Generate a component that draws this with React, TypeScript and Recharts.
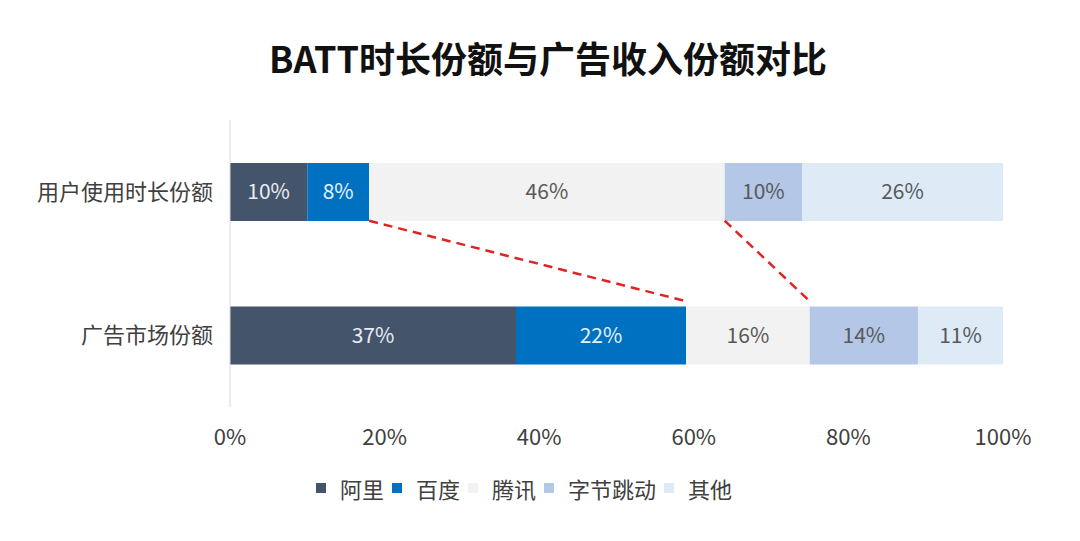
import React from 'react';
import { BarChart, Bar, XAxis, YAxis, LabelList, Legend, ReferenceLine } from 'recharts';

const categories = ['用户使用时长份额', '广告市场份额'];
const seriesNames = ['阿里', '百度', '腾讯', '字节跳动', '其他'];
const ali = [10, 37];
const baidu = [8, 22];
const tencent = [46, 16];
const bytedance = [10, 14];
const others = [26, 11];
const xTicks = [0, 20, 40, 60, 80, 100];

const colors = ['#44546A', '#0070C0', '#F2F2F2', '#B4C7E7', '#DEEBF7'];
const labelColors = ['#E8ECF2', '#E3F1FF', '#595959', '#595959', '#595959'];

const FONT = '"Noto Sans CJK SC", "Noto Sans", sans-serif';
const WIDTH = 1080;
const HEIGHT = 541;
const MARGIN = { top: 120, right: 77, left: 0, bottom: 38 };
const X_AXIS_HEIGHT = 66;
const LEGEND_HEIGHT = 30;
const BAR_SIZE = 58;

const seriesValues = [ali, baidu, tencent, bytedance, others];
const data = categories.map((name, i) => {
  const row: Record<string, string | number> = { name };
  seriesNames.forEach((s, j) => {
    row[s] = seriesValues[j][i];
  });
  return row;
});

// connectors: end of 百度 and end of 腾讯, top bar -> bottom bar
const cum = (i: number, n: number) => seriesValues.slice(0, n).reduce((a, s) => a + s[i], 0);
const connectors = [2, 3].map((n) => [
  { x: cum(0, n), y: categories[0] },
  { x: cum(1, n), y: categories[1] },
]);

// draw from bottom edge of the upper bar to just above the lower bar
const connectorShape = (p: any) => {
  const y1 = p.y1 + BAR_SIZE / 2;
  const y2 = p.y2 - BAR_SIZE / 2 - 5;
  return (
    <line
      x1={p.x1}
      y1={y1}
      x2={p.x2}
      y2={y2}
      stroke="#E02424"
      strokeWidth={2.5}
      strokeDasharray="9 6"
    />
  );
};

const renderLegend = () => (
  <div
    style={{
      display: 'flex',
      justifyContent: 'center',
      alignItems: 'center',
      height: LEGEND_HEIGHT,
      fontFamily: FONT,
      fontSize: 22,
      color: '#404040',
      paddingRight: 24,
    }}
  >
    {seriesNames.map((s, i) => (
      <div key={s} style={{ display: 'flex', alignItems: 'center', marginRight: 8 }}>
        <span style={{ width: 10, height: 10, background: colors[i], marginRight: 14, display: 'inline-block' }} />
        <span>{s}</span>
      </div>
    ))}
  </div>
);

export default function App() {
  return (
    <div style={{ position: 'absolute', left: 0, top: 0, width: WIDTH, height: HEIGHT, background: '#fff' }}>
      <div
        style={{
          position: 'absolute',
          top: 34,
          left: 8,
          width: WIDTH,
          textAlign: 'center',
          fontFamily: FONT,
          fontWeight: 700,
          fontSize: 36,
          lineHeight: '46px',
          color: '#111',
        }}
      >
        BATT时长份额与广告收入份额对比
      </div>
      <BarChart width={WIDTH} height={HEIGHT} data={data} layout="vertical" margin={MARGIN}>
        <XAxis
          type="number"
          domain={[0, 100]}
          ticks={xTicks}
          tickFormatter={(v: number) => `${v}%`}
          axisLine={false}
          tickLine={false}
          tickSize={0}
          tickMargin={22}
          height={X_AXIS_HEIGHT}
          tick={{ fill: '#404040', fontSize: 22, fontFamily: FONT }}
          interval={0}
        />
        <YAxis
          type="category"
          dataKey="name"
          width={230}
          axisLine={{ stroke: '#D9D9D9' }}
          tickLine={false}
          tickSize={0}
          tickMargin={17}
          tick={{ fill: '#404040', fontSize: 22, fontFamily: FONT }}
        />
        {seriesNames.map((s, i) => (
          <Bar
            key={s}
            dataKey={s}
            stackId="a"
            fill={colors[i]}
            barSize={BAR_SIZE}
            isAnimationActive={false}
          >
            <LabelList
              dataKey={s}
              position="center"
              formatter={(v: number) => `${v}%`}
              fill={labelColors[i]}
              fontSize={21}
              fontFamily={FONT}
            />
          </Bar>
        ))}
        {connectors.map((seg, i) => (
          <ReferenceLine key={i} segment={seg} ifOverflow="visible" shape={connectorShape} />
        ))}
        <Legend verticalAlign="bottom" height={LEGEND_HEIGHT} content={renderLegend} wrapperStyle={{ left: 0, width: WIDTH }} />
      </BarChart>
    </div>
  );
}
